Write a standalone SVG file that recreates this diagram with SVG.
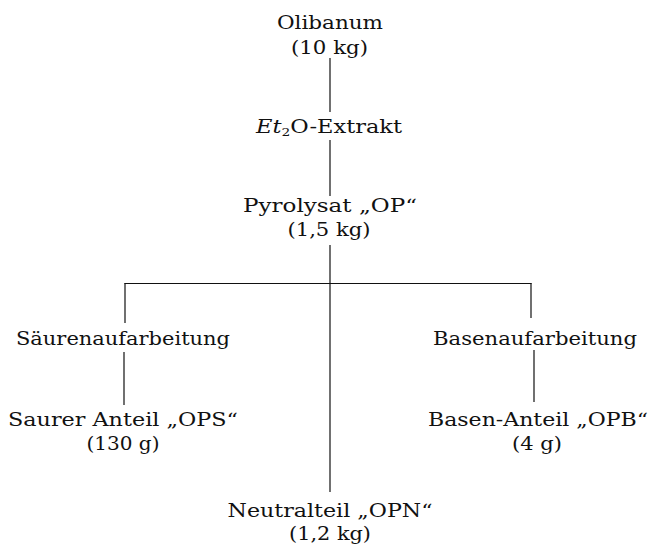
<svg xmlns="http://www.w3.org/2000/svg" width="652" height="546" viewBox="0 0 652 546">
<style>
text{font-family:"DejaVu Serif","Liberation Serif",serif;font-size:18px;fill:#111;text-anchor:middle}
.c line{stroke:#111;stroke-width:1.2}
</style>
<rect width="652" height="546" fill="#fff"/>
<g class="c" id="connectors">
<line x1="330" y1="58" x2="330" y2="112"/>
<line x1="330" y1="140" x2="330" y2="196"/>
<line x1="330" y1="245" x2="330" y2="492"/>
<line x1="124.5" y1="283.5" x2="531.5" y2="283.5"/>
<line x1="125" y1="283" x2="125" y2="323"/>
<line x1="531" y1="283" x2="531" y2="318"/>
<line x1="124" y1="352" x2="124" y2="405"/>
<line x1="534" y1="350" x2="534" y2="402"/>
</g>
<g id="olibanum">
<text x="330" y="29" textLength="106" lengthAdjust="spacingAndGlyphs">Olibanum</text>
<text x="329.5" y="54" textLength="77" lengthAdjust="spacingAndGlyphs">(10 kg)</text>
</g>
<g id="extrakt">
<text x="329" y="133" textLength="146" lengthAdjust="spacingAndGlyphs"><tspan font-style="italic">Et</tspan><tspan font-size="11" dy="3">2</tspan><tspan dy="-3">O-Extrakt</tspan></text>
</g>
<g id="pyrolysat">
<text x="330" y="212" textLength="174" lengthAdjust="spacingAndGlyphs">Pyrolysat „OP“</text>
<text x="329" y="236" textLength="83" lengthAdjust="spacingAndGlyphs">(1,5 kg)</text>
</g>
<g id="saeure">
<text x="123" y="345" textLength="214" lengthAdjust="spacingAndGlyphs">Säurenaufarbeitung</text>
</g>
<g id="base">
<text x="535" y="345" textLength="204" lengthAdjust="spacingAndGlyphs">Basenaufarbeitung</text>
</g>
<g id="ops">
<text x="123" y="426" textLength="230" lengthAdjust="spacingAndGlyphs">Saurer Anteil „OPS“</text>
<text x="123" y="450" textLength="73" lengthAdjust="spacingAndGlyphs">(130 g)</text>
</g>
<g id="opb">
<text x="538" y="426" textLength="220" lengthAdjust="spacingAndGlyphs">Basen-Anteil „OPB“</text>
<text x="537" y="450" textLength="50" lengthAdjust="spacingAndGlyphs">(4 g)</text>
</g>
<g id="opn">
<text x="330" y="517" textLength="205" lengthAdjust="spacingAndGlyphs">Neutralteil „OPN“</text>
<text x="330" y="540" textLength="82" lengthAdjust="spacingAndGlyphs">(1,2 kg)</text>
</g>
</svg>
